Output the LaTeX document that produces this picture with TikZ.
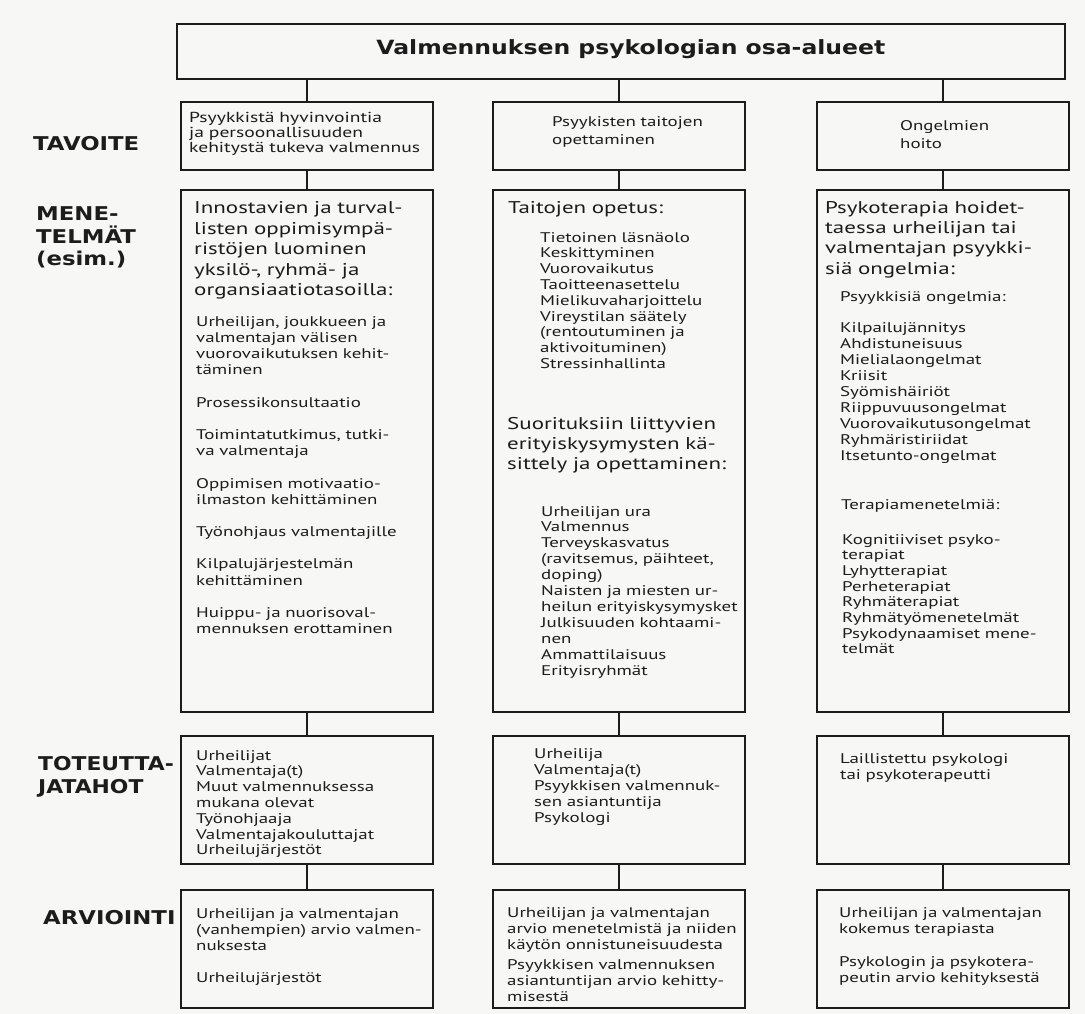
\documentclass[tikz,border=0pt]{standalone}
\usepackage{fontspec}
\setmainfont[FakeStretch=1.35]{PT Sans}
\newfontfamily\labelfont[FakeStretch=1.2]{DejaVu Sans}
\newfontfamily\labelfontn[FakeStretch=1.15]{DejaVu Sans}
\definecolor{paper}{RGB}{247,247,245}
\definecolor{ink}{RGB}{28,28,28}
\begin{document}
\begin{tikzpicture}[x=1pt,y=-1pt,
  box/.style={draw=ink, line width=1.7pt, fill=paper, minimum width=252pt, inner sep=0pt, anchor=north west},
  link/.style={draw=ink, line width=1.7pt},
  txt/.style={anchor=base west, inner sep=0pt, text width=300pt, align=left, text=ink, font=\fontsize{14}{16}\selectfont},
  big/.style={txt, font=\fontsize{17}{20.4}\selectfont},
  lab/.style={anchor=base west, inner sep=0pt, text width=200pt, align=left, text=ink, font=\labelfont\bfseries\fontsize{19}{23}\selectfont},
]
\fill[paper] (0,0) rectangle (1085,1014);
\useasboundingbox (0,0) rectangle (1085,1014);

% title
\node[box, minimum width=888pt, minimum height=55pt] (title) at (176,23) {};
\node[anchor=base, inner sep=0pt, text=ink, font=\labelfont\bfseries\fontsize{19.6}{24}\selectfont, xshift=10pt, yshift=-32pt] (titlet) at (title.north) {Valmennuksen psykologian osa-alueet};

% row 1
\node[box, minimum height=68pt] (a1) at (180,101) {};
\node[box, minimum height=68pt] (b1) at (492,101) {};
\node[box, minimum height=68pt] (c1) at (816,101) {};
% row 2
\node[box, minimum height=522pt] (a2) at (180,189) {};
\node[box, minimum height=522pt] (b2) at (492,189) {};
\node[box, minimum height=522pt] (c2) at (816,189) {};
% row 3
\node[box, minimum height=128pt] (a3) at (180,735) {};
\node[box, minimum height=128pt] (b3) at (492,735) {};
\node[box, minimum height=128pt] (c3) at (816,735) {};
% row 4
\node[box, minimum height=118pt] (a4) at (180,889) {};
\node[box, minimum height=118pt] (b4) at (492,889) {};
\node[box, minimum height=118pt] (c4) at (816,889) {};

% connectors
\foreach \c in {a,b,c}{
  \draw[link] (\c1.north) -- (\c1.north |- title.south);
  \draw[link] (\c1.south) -- (\c2.north);
  \draw[link] (\c2.south) -- (\c3.north);
  \draw[link] (\c3.south) -- (\c4.north);
}

% labels
\node[lab] (ltav) at (33,151) {TAVOITE};
\node[lab] (lmen) at (36,220) {MENE-\\TELMÄT\\(esim.)};
\node[lab, font=\labelfontn\bfseries\fontsize{19}{23}\selectfont] (ltot) at (38,770) {TOTEUTTA-\\JATAHOT};
\node[lab] (larv) at (43,924) {ARVIOINTI};

% row 1 texts
\node[txt, font=\fontsize{14.5}{15}\selectfont, xshift=9pt, yshift=-22pt] (a1t) at (a1.north west)
 {Psyykkistä hyvinvointia\\ja persoonallisuuden\\kehitystä tukeva valmennus};
\node[txt, font=\fontsize{14}{18}\selectfont, xshift=60pt, yshift=-26pt] (b1t) at (b1.north west)
 {Psyykisten taitojen\\opettaminen};
\node[txt, font=\fontsize{14}{18}\selectfont, xshift=84pt, yshift=-30pt] (c1t) at (c1.north west)
 {Ongelmien\\hoito};

% row 2 texts
\node[big, xshift=14pt, yshift=-25pt] (a2h) at (a2.north west)
 {Innostavien ja turval-\\listen oppimisympä-\\ristöjen luominen\\yksilö-, ryhmä- ja\\organsiaatiotasoilla:};
\node[txt, font=\fontsize{14}{16.2}\selectfont, xshift=16pt, yshift=-137pt] (a2i) at (a2.north west)
 {Urheilijan, joukkueen ja\\valmentajan välisen\\vuorovaikutuksen kehit-\\täminen\\[16.2pt]
  Prosessikonsultaatio\\[16.2pt]
  Toimintatutkimus, tutki-\\va valmentaja\\[16.2pt]
  Oppimisen motivaatio-\\ilmaston kehittäminen\\[16.2pt]
  Työnohjaus valmentajille\\[16.2pt]
  Kilpalujärjestelmän\\kehittäminen\\[16.2pt]
  Huippu- ja nuorisoval-\\mennuksen erottaminen};

\node[big, xshift=16pt, yshift=-24pt] (b2h) at (b2.north west) {Taitojen opetus:};
\node[txt, font=\fontsize{14}{15.8}\selectfont, xshift=48pt, yshift=-53pt] (b2l) at (b2.north west)
 {Tietoinen läsnäolo\\Keskittyminen\\Vuorovaikutus\\Taoitteenasettelu\\Mielikuvaharjoittelu\\Vireystilan säätely\\(rentoutuminen ja\\aktivoituminen)\\Stressinhallinta};
\node[big, xshift=15pt, yshift=-240pt] (b2h2) at (b2.north west)
 {Suorituksiin liittyvien\\erityiskysymysten kä-\\sittely ja opettaminen:};
\node[txt, font=\fontsize{14}{15.9}\selectfont, xshift=49pt, yshift=-327pt] (b2l2) at (b2.north west)
 {Urheilijan ura\\Valmennus\\Terveyskasvatus\\(ravitsemus, päihteet,\\doping)\\Naisten ja miesten ur-\\heilun erityiskysymysket\\Julkisuuden kohtaami-\\nen\\Ammattilaisuus\\Erityisryhmät};

\node[big, xshift=9pt, yshift=-24pt] (c2h) at (c2.north west)
 {Psykoterapia hoidet-\\taessa urheilijan tai\\valmentajan psyykki-\\siä ongelmia:};
\node[txt, xshift=24pt, yshift=-112pt] (c2s) at (c2.north west) {Psyykkisiä ongelmia:};
\node[txt, xshift=24pt, yshift=-143pt] (c2l) at (c2.north west)
 {Kilpailujännitys\\Ahdistuneisuus\\Mielialaongelmat\\Kriisit\\Syömishäiriöt\\Riippuvuusongelmat\\Vuorovaikutusongelmat\\Ryhmäristiriidat\\Itsetunto-ongelmat};
\node[txt, xshift=25pt, yshift=-320pt] (c2s2) at (c2.north west) {Terapiamenetelmiä:};
\node[txt, font=\fontsize{14}{15.7}\selectfont, xshift=26pt, yshift=-355pt] (c2l2) at (c2.north west)
 {Kognitiiviset psyko-\\terapiat\\Lyhytterapiat\\Perheterapiat\\Ryhmäterapiat\\Ryhmätyömenetelmät\\Psykodynaamiset mene-\\telmät};

% row 3 texts
\node[txt, font=\fontsize{14}{15.8}\selectfont, xshift=16pt, yshift=-25pt] (a3t) at (a3.north west)
 {Urheilijat\\Valmentaja(t)\\Muut valmennuksessa\\mukana olevat\\Työnohjaaja\\Valmentajakouluttajat\\Urheilujärjestöt};
\node[txt, font=\fontsize{14}{16.2}\selectfont, xshift=42pt, yshift=-23pt] (b3t) at (b3.north west)
 {Urheilija\\Valmentaja(t)\\Psyykkisen valmennuk-\\sen asiantuntija\\Psykologi};
\node[txt, xshift=24pt, yshift=-28pt] (c3t) at (c3.north west)
 {Laillistettu psykologi\\tai psykoterapeutti};

% row 4 texts
\node[txt, xshift=16pt, yshift=-29pt] (a4t) at (a4.north west)
 {Urheilijan ja valmentajan\\(vanhempien) arvio valmen-\\nuksesta\\[16pt]Urheilujärjestöt};
\node[txt, xshift=15pt, yshift=-28pt] (b4t) at (b4.north west)
 {Urheilijan ja valmentajan\\arvio menetelmistä ja niiden\\käytön onnistuneisuudesta\\[4pt]Psyykkisen valmennuksen\\asiantuntijan arvio kehitty-\\misestä};
\node[txt, xshift=23pt, yshift=-28pt] (c4t) at (c4.north west)
 {Urheilijan ja valmentajan\\kokemus terapiasta\\[17pt]Psykologin ja psykotera-\\peutin arvio kehityksestä};
\end{tikzpicture}
\end{document}
